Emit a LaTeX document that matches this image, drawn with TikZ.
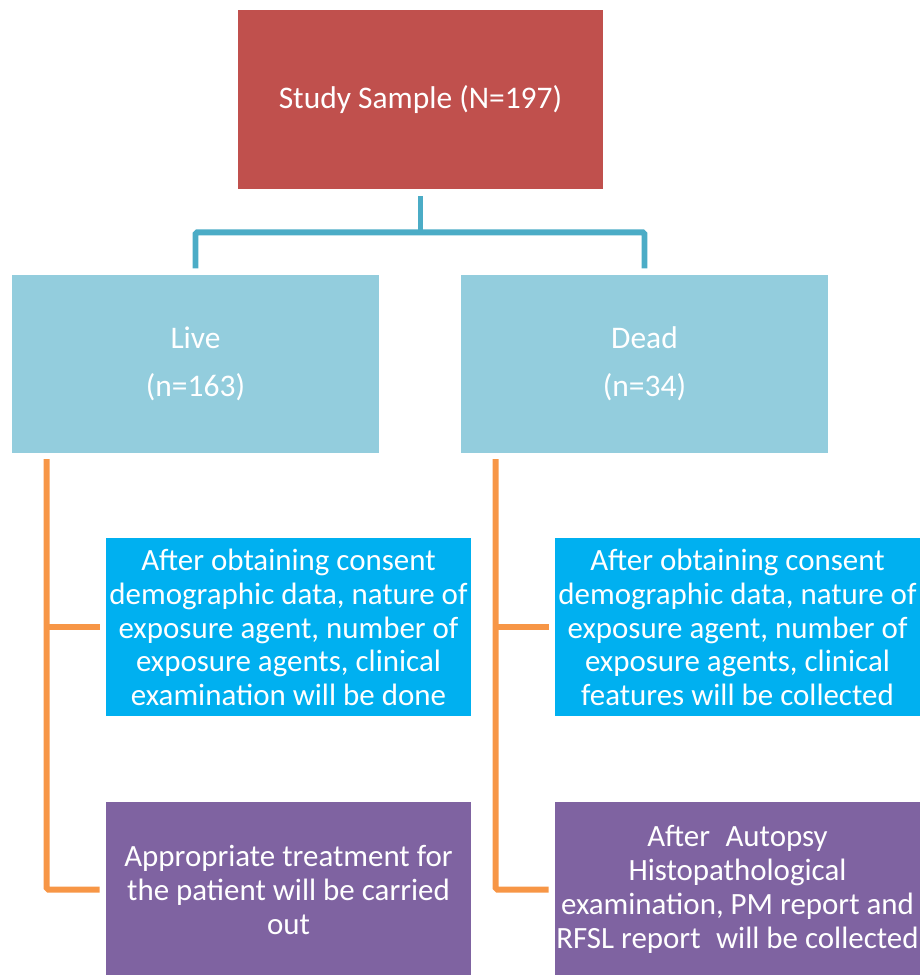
\documentclass[tikz,border=0pt]{standalone}
\usepackage{fontspec}
\setmainfont{Carlito}
\usepackage{xcolor}
\usetikzlibrary{positioning, calc}

\definecolor{samplered}{HTML}{C0504D}
\definecolor{grouplblue}{HTML}{93CDDD}
\definecolor{infocyan}{HTML}{00B0F0}
\definecolor{actpurple}{HTML}{7F63A1}
\definecolor{linkteal}{HTML}{4BACC6}
\definecolor{linkorange}{HTML}{F79646}

\begin{document}
\begin{tikzpicture}[
    samplebox/.style={fill=samplered, minimum width=7.3cm, minimum height=3.58cm,
        text=white, font=\fontsize{17.9}{21}\selectfont, align=center, inner sep=0pt},
    groupbox/.style={fill=grouplblue, minimum width=7.34cm, minimum height=3.56cm,
        text=white, font=\fontsize{17.9}{27}\selectfont, align=center, inner sep=0pt},
    infobox/.style={fill=infocyan, minimum width=7.3cm, minimum height=3.56cm,
        text=white, font=\fontsize{17.6}{19.3}\selectfont, align=center, inner sep=0pt},
    actionbox/.style={fill=actpurple, minimum width=7.3cm, minimum height=3.5cm,
        text=white, font=\fontsize{17.6}{19.3}\selectfont, align=center, inner sep=0pt},
    tealline/.style={draw=linkteal, line width=3.4pt, rounded corners=1pt},
    orangeline/.style={draw=linkorange, line width=3.4pt, rounded corners=1pt}
]
\useasboundingbox (0,0) rectangle (18.46,-19.5);

% Top
\node[samplebox] (sample) at (8.41,-1.99) {Study Sample (N=197)};

% Groups
\node[groupbox, below=1.7cm of sample, xshift=-4.5cm] (live) {Live\\(n=163)};
\node[groupbox, below=1.7cm of sample, xshift=4.48cm] (dead) {Dead\\(n=34)};

% Data collection
\node[infobox, below right=1.7cm and 1.88cm of live.south west] (liveinfo)
    {After obtaining consent\\demographic data, nature of\\exposure agent, number of\\exposure agents, clinical\\examination will be done};
\node[infobox, below right=1.7cm and 1.88cm of dead.south west] (deadinfo)
    {After obtaining consent\\demographic data, nature of\\exposure agent, number of\\exposure agents, clinical\\features will be collected};

% Outcome
\node[actionbox, below=1.7cm of liveinfo] (liveact)
    {Appropriate treatment for\\the patient will be carried\\out};
\node[actionbox, below=1.7cm of deadinfo] (deadact)
    {After\enspace Autopsy\\Histopathological\\examination, PM report and\\RFSL report\enspace will be collected};

% Split lines
\coordinate (split) at ([yshift=-0.86cm]sample.south);
\draw[tealline] ([yshift=-0.14cm]sample.south) -- (split);
\draw[tealline] ([yshift=0.12cm]live.north) |- (split) -| ([yshift=0.12cm]dead.north);

% Branch lines
\coordinate (ltop) at ([xshift=0.7cm,yshift=-0.12cm]live.south west);
\coordinate (dtop) at ([xshift=0.7cm,yshift=-0.12cm]dead.south west);
\draw[orangeline] (ltop) |- ([xshift=-0.12cm]liveact.west);
\draw[orangeline] (ltop |- liveinfo.west) -- ([xshift=-0.12cm]liveinfo.west);
\draw[orangeline] (dtop) |- ([xshift=-0.12cm]deadact.west);
\draw[orangeline] (dtop |- deadinfo.west) -- ([xshift=-0.12cm]deadinfo.west);

\end{tikzpicture}
\end{document}
